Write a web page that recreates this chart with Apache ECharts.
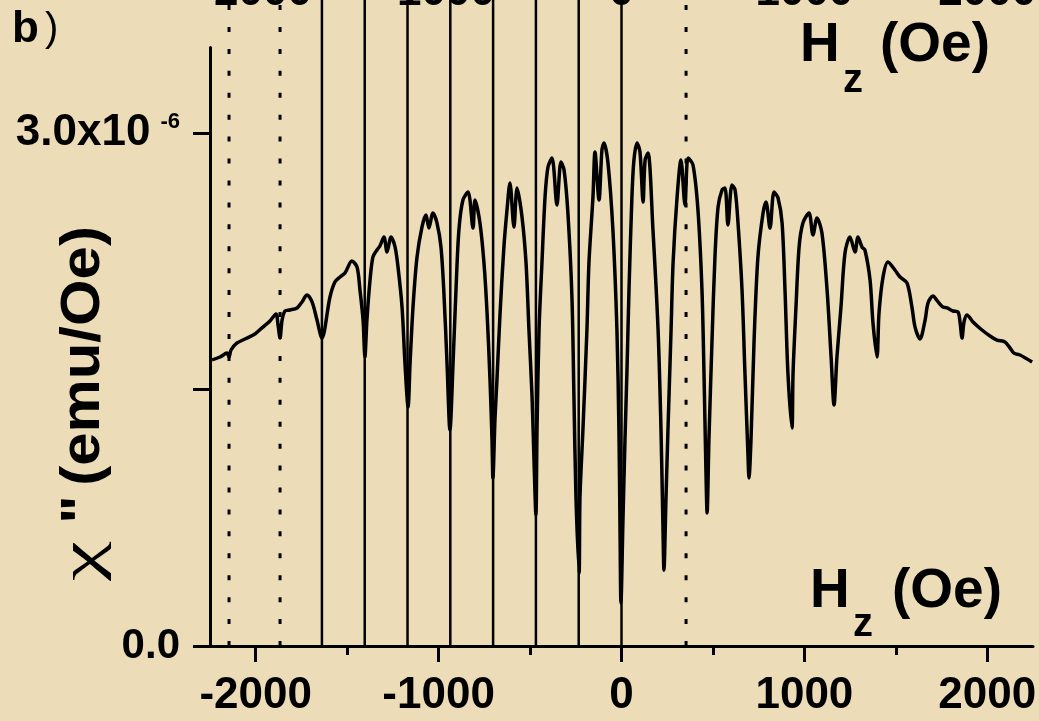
<!DOCTYPE html>
<html>
<head>
<meta charset="utf-8">
<script src="https://cdn.jsdelivr.net/npm/echarts@6/dist/echarts.min.js"></script>
<style>
html,body{margin:0;padding:0;background:#ECDDB8;}
#chart{width:1039px;height:721px;}
</style>
</head>
<body>
<div id="chart"></div>
<script>
// Field H_z (Oe)
const fieldH = [-2239,-2195,-2157,-2146,-2135,-2102,-2059,-2004,-1966,-1922,-1889,-1878,-1867,-1856,-1840,-1813,-1774,-1747,-1720,-1692,-1665,-1638,
-1594,-1567,-1539,-1512,-1474,-1446,-1430,-1413,-1403,
-1392,-1375,-1359,-1337,-1321,-1299,-1282,-1260,-1238,-1222,-1200,-1184,-1167,
-1156,-1140,-1118,-1091,-1069,-1053,-1031,-1009,-987,-971,-954,-938,
-921,-905,-889,-867,-839,-812,-801,-774,-752,-735,-719,-708,-703,
-692,-681,-664,-643,-626,-610,-588,-571,-544,-522,-506,-489,-478,-468,
-462,-451,-435,-418,-402,-380,-353,-331,-314,-293,-271,-260,-249,-232,
-227,-211,-189,-178,-156,-145,-123,-107,-96,-74,-47,-25,-14,-8,-3,
8,19,30,41,57,68,85,101,118,129,145,172,200,216,227,232,
243,254,271,282,304,325,347,364,391,418,440,451,462,468,
478,495,511,528,550,566,582,604,621,637,659,675,692,697,
708,725,746,774,790,812,834,856,878,894,910,932,
938,954,971,992,1025,1047,1069,1096,1124,1146,1162,
1178,1200,1222,1249,1277,1293,1315,1331,1359,1375,1397,
1408,1430,1457,1495,1523,1561,1588,1605,1632,
1660,1676,1703,1731,1758,1780,1813,1840,1851,1862,1873,1889,1922,1971,2015,2053,2097,2124,2146,2179,2245];
// chi'' (units of 1e-6 emu/Oe)
const chi = [1.673,1.690,1.713,1.690,1.731,1.772,1.795,1.825,1.860,1.901,1.942,1.877,1.801,1.906,1.959,1.965,1.977,2.012,2.053,2.012,1.906,1.801,
2.041,2.129,2.158,2.181,2.251,2.216,2.082,1.906,1.690,
1.906,2.140,2.275,2.316,2.339,2.392,2.304,2.392,2.333,2.216,1.982,1.655,1.398,
1.655,1.982,2.275,2.450,2.520,2.444,2.532,2.474,2.333,2.064,1.655,1.263,
1.655,2.082,2.433,2.608,2.655,2.444,2.608,2.474,2.240,1.947,1.556,1.205,0.982,
1.322,1.556,1.947,2.333,2.550,2.708,2.450,2.678,2.509,2.240,1.848,1.456,1.070,0.766,
1.263,1.848,2.240,2.626,2.801,2.854,2.579,2.830,2.784,2.532,2.041,1.456,0.871,0.427,
0.871,1.263,1.848,2.240,2.626,2.889,2.608,2.901,2.942,2.825,2.433,1.848,1.263,0.678,0.251,
0.737,1.205,1.614,2.082,2.626,2.842,2.942,2.889,2.596,2.842,2.883,2.433,1.848,1.263,0.678,0.444,
0.854,1.263,1.848,2.240,2.626,2.842,2.579,2.854,2.813,2.550,2.082,1.596,1.012,0.778,
1.205,1.789,2.275,2.567,2.667,2.678,2.462,2.696,2.667,2.474,2.082,1.596,1.105,0.982,
1.205,1.789,2.275,2.532,2.596,2.444,2.655,2.620,2.474,2.082,1.596,1.275,
1.596,1.982,2.333,2.474,2.532,2.404,2.503,2.415,2.082,1.690,1.409,
1.690,1.982,2.298,2.392,2.304,2.392,2.333,2.316,2.140,1.889,1.690,
1.947,2.158,2.246,2.199,2.158,2.123,1.982,1.865,1.795,
1.906,2.006,2.047,2.012,1.982,1.977,1.959,1.953,1.895,1.801,1.895,1.936,1.895,1.848,1.813,1.789,1.778,1.743,1.713,1.702,1.661];
// vertical marker lines (Oe)
const solidLines = [-1638,-1404,-1170,-936,-702,-468,-234,0];
const dottedLines = [-2146,-1867,353];
// tick values
const xMajorTicks = [-2000,-1000,0,1000,2000];
const xMinorTicks = [-1500,-500,500,1500];
const yTicks = [0,1.5,3.0];
const yLabels = [0,3.0];

const LINE_TOP = 3.8;
const FONT = 'Liberation Sans, Arial, sans-serif';
const curve = fieldH.map((h,i)=>[h, chi[i]]);

const series = [];
solidLines.forEach(x => series.push({
  type:'line', data:[[x,0],[x,LINE_TOP]], clip:false, symbol:'none', silent:true,
  lineStyle:{color:'#000', width:2.5}, z:2
}));
dottedLines.forEach(x => series.push({
  type:'line', data:[[x,0],[x,LINE_TOP]], clip:false, symbol:'none', silent:true,
  lineStyle:{color:'#000', width:3, type:[5,16.93]}, z:2
}));
series.push({
  type:'line', data:curve, symbol:'none', smooth:0.3,
  lineStyle:{color:'#000', width:3.5, join:'round'}, z:3, clip:false
});

const chart = echarts.init(document.getElementById('chart'));
chart.setOption({
  backgroundColor:'#ECDDB8',
  animation:false,
  grid:{left:210, right:6, top:47.5, bottom:75, containLabel:false, outerBoundsMode:'none'},
  xAxis:[{
    type:'value', min:-2250, max:2250, position:'bottom',
    axisLine:{show:true, onZero:false, lineStyle:{color:'#000', width:3}},
    axisTick:{show:true, length:16, lineStyle:{color:'#000', width:3}, customValues:xMajorTicks},
    axisLabel:{show:true, customValues:xMajorTicks, margin:28, color:'#000', fontSize:44, fontWeight:'bold', fontFamily:FONT,
      formatter: v => String(v)},
    splitLine:{show:false}
  },{
    type:'value', min:-2250, max:2250, position:'top',
    axisLine:{show:false, onZero:false}, axisTick:{show:false},
    axisLabel:{show:true, customValues:xMajorTicks, margin:33, color:'#000', fontSize:44, fontWeight:'bold', fontFamily:FONT,
      formatter: v => String(v)},
    splitLine:{show:false}
  },{
    type:'value', min:-2250, max:2250, position:'bottom',
    axisLine:{show:false, onZero:false},
    axisTick:{show:true, length:9, lineStyle:{color:'#000', width:3}, customValues:xMinorTicks},
    axisLabel:{show:false}, splitLine:{show:false}
  }],
  yAxis:{
    type:'value', min:0, max:3.5,
    axisLine:{show:true, onZero:false, lineStyle:{color:'#000', width:3}},
    axisTick:{show:true, length:17, lineStyle:{color:'#000', width:3}, customValues:yTicks},
    axisLabel:{show:true, customValues:yLabels, margin:30, color:'#000', fontSize:42, fontWeight:'bold', fontFamily:FONT,
      formatter: v => v === 0 ? '0.0' : '{m|' + v.toFixed(1) + 'x10}{s|-6}',
      rich:{
        m:{fontSize:44, fontWeight:'bold', fontFamily:FONT, color:'#000'},
        s:{fontSize:22, fontWeight:'bold', fontFamily:FONT, color:'#000', verticalAlign:'top', padding:[0,0,0,10]}
      }
    },
    splitLine:{show:false}
  },
  series: series,
  graphic:[
    {type:'text', left:12, top:8, style:{text:'{b|b}{p|)}', rich:{
      b:{fontSize:44, fontWeight:'bold', fontFamily:FONT, fill:'#000', color:'#000'},
      p:{fontSize:40, fontWeight:'normal', fontFamily:FONT, fill:'#000', color:'#000', padding:[0,0,0,6]}
    }}},
    // top axis title
    {type:'text', x:800, y:46, style:{text:'H', font:'bold 55px ' + FONT, fill:'#000', verticalAlign:'middle', align:'left'}},
    {type:'text', x:843, y:81, style:{text:'z', font:'bold 40px ' + FONT, fill:'#000', verticalAlign:'middle', align:'left'}},
    {type:'text', x:880, y:46, style:{text:'(Oe)', font:'bold 55px ' + FONT, fill:'#000', verticalAlign:'middle', align:'left'}},
    // bottom axis title
    {type:'text', x:810, y:592, style:{text:'H', font:'bold 55px ' + FONT, fill:'#000', verticalAlign:'middle', align:'left'}},
    {type:'text', x:853, y:625, style:{text:'z', font:'bold 40px ' + FONT, fill:'#000', verticalAlign:'middle', align:'left'}},
    {type:'text', x:892, y:592, style:{text:'(Oe)', font:'bold 55px ' + FONT, fill:'#000', verticalAlign:'middle', align:'left'}},
    // y title: chi symbol
    {type:'text', x:84, y:561, rotation:Math.PI/2, scaleX:1.6, style:{
      text:'χ', align:'center', verticalAlign:'middle',
      font:'normal 56px Liberation Serif, serif', fill:'#000'
    }},
    // y title: double prime + unit
    {type:'text', x:84, y:375, rotation:Math.PI/2, scaleX:1.07, style:{
      text:'{q|"}{t|(emu/Oe)}', align:'center', verticalAlign:'middle',
      rich:{
        q:{fontSize:56, fontFamily:FONT, fontWeight:'bold', fill:'#000', color:'#000', padding:[0,9,0,0]},
        t:{fontSize:56, fontFamily:FONT, fontWeight:'bold', fill:'#000', color:'#000'}
      }
    }}
  ]
});
</script>
</body>
</html>
